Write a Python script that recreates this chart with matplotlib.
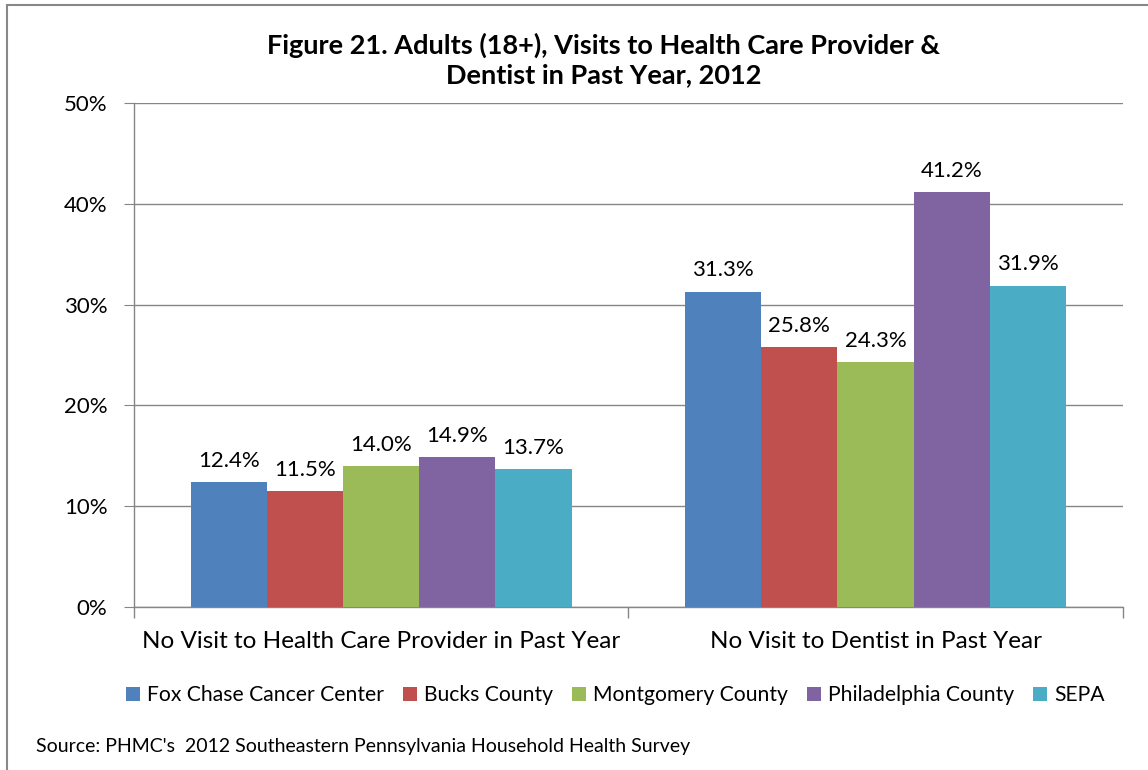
import numpy as np
import matplotlib.pyplot as plt
from matplotlib.patches import Rectangle

plt.rcParams['font.family'] = ['Lato', 'DejaVu Sans']

categories = ["No Visit to Health Care Provider in Past Year", "No Visit to Dentist in Past Year"]
series = ["Fox Chase Cancer Center", "Bucks County", "Montgomery County", "Philadelphia County", "SEPA"]
fox_chase = [12.4, 31.3]
bucks = [11.5, 25.8]
montgomery = [14.0, 24.3]
philadelphia = [14.9, 41.2]
sepa = [13.7, 31.9]
values = [fox_chase, bucks, montgomery, philadelphia, sepa]
colors = ['#4F81BD', '#C0504D', '#9BBB59', '#8064A2', '#4BACC6']

fig = plt.figure(figsize=(11.48, 7.70), dpi=100)
ax = fig.add_axes([0.1167, 0.2117, 0.978 - 0.1167, 0.866 - 0.2117])

x = np.arange(len(categories))
bw = 0.154
for i, (name, vals, c) in enumerate(zip(series, values, colors)):
    pos = x + (i - 2) * bw
    ax.bar(pos, vals, width=bw, color=c, label=name, zorder=3)
    for p, v in zip(pos, vals):
        ax.annotate(f"{v:.1f}%", (p, v), xytext=(0, 8), textcoords='offset points',
                    ha='center', va='bottom', fontsize=16, color='black')

grid_c = '#868686'
ax.set_xlim(-0.5, 1.5)
ax.set_ylim(0, 50)
ax.set_yticks(range(0, 51, 10))
ax.set_yticklabels([f"{t}%" for t in range(0, 51, 10)], fontsize=16)
ax.yaxis.grid(True, color=grid_c, linewidth=1, zorder=0)
ax.set_axisbelow(True)
ax.tick_params(axis='y', length=7, color=grid_c, pad=12)

ax.set_xticks(x)
ax.set_xticklabels(categories, fontsize=17.5)
ax.tick_params(axis='x', length=0, pad=17)
ax.set_xticks([-0.5, 0.5, 1.5], minor=True)
ax.tick_params(axis='x', which='minor', length=8, color=grid_c, width=1)

for s in ['top', 'right']:
    ax.spines[s].set_visible(False)
for s in ['left', 'bottom']:
    ax.spines[s].set_color(grid_c)
    ax.spines[s].set_linewidth(1)

fig.text(0.526, 0.922, "Figure 21. Adults (18+), Visits to Health Care Provider &\nDentist in Past Year, 2012",
         ha='center', va='center', fontsize=19.5, fontweight='bold', linespacing=1.25)

ax.legend(loc='center', bbox_to_anchor=(0.536, 0.097), bbox_transform=fig.transFigure,
          ncol=5, frameon=False, fontsize=15.2, handlelength=0.65, handleheight=0.65,
          handletextpad=0.35, columnspacing=0.9)

fig.text(0.031, 0.030, "Source: PHMC's  2012 Southeastern Pennsylvania Household Health Survey",
         ha='left', va='center', fontsize=14)

fig.patches.append(Rectangle((7 / 1148, -0.1), 1.2, 1.1 - 5 / 770, transform=fig.transFigure,
                             fill=False, edgecolor='#888888', linewidth=1.5))

fig.savefig("out.png", dpi=100)
